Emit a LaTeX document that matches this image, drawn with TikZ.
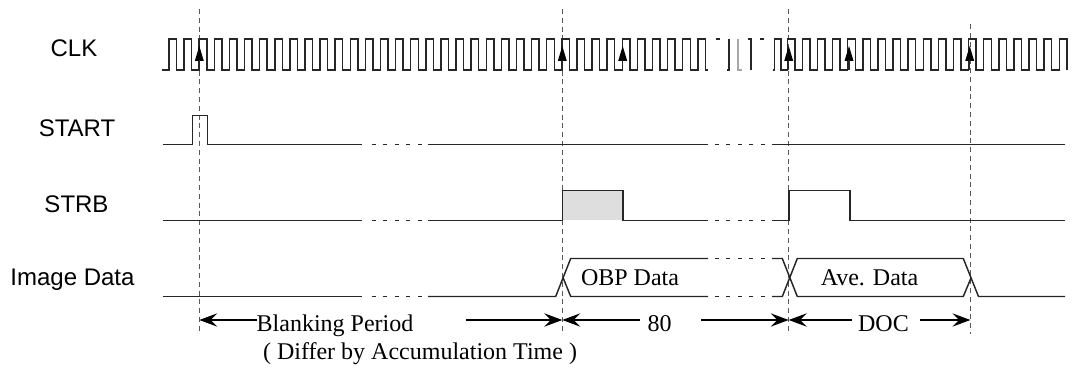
\documentclass[tikz,border=0pt]{standalone}
\usepackage{fontspec}
\setmainfont{Liberation Serif}
\newfontfamily\lblfont{Liberation Sans}
\usetikzlibrary{arrows.meta}
\tikzset{
  x=0.75pt,y=-0.75pt,
  sig/.style={line width=1.1pt,line join=miter,black!85},
  guide/.style={line width=0.8pt,black!65,dash pattern=on 3.8pt off 2.8pt},
  clkarrow/.style={fill=black,draw=none},
  diml/.style={line width=0.9pt,black,{Stealth[length=13.5pt,width=10pt,inset=5pt]}-},
  dimr/.style={line width=0.9pt,black,-{Stealth[length=13.5pt,width=10pt,inset=5pt]}},
  gap/.style={line width=1.1pt,black!85,dash pattern=on 2.8pt off 5.8pt},
  siglabel/.style={font=\lblfont\fontsize{18pt}{20pt}\selectfont,anchor=base,inner sep=0pt,black},
  tlabel/.style={font=\fontsize{18pt}{20pt}\selectfont,anchor=base,inner sep=0pt,black}
}
\begin{document}
\begin{tikzpicture}
\useasboundingbox (0,0) rectangle (1072,370);
% guides
\coordinate (g1t) at (199.3,9); \coordinate (g1b) at (199.3,334);
\coordinate (g2t) at (562.3,9); \coordinate (g2b) at (562.3,334);
\coordinate (g3t) at (788.7,9); \coordinate (g3b) at (788.7,334);
\coordinate (g4t) at (970.4,24); \coordinate (g4b) at (970.4,334);
\fill[black!13] (562.3,190.5) rectangle (622.8,220.5);
\draw[guide] (g1t)--(g1b);
\draw[guide] (g2t)--(g2b);
\draw[guide] (g3t)--(g3b);
\draw[guide] (g4t)--(g4b);
% labels
\node[siglabel] (clk) at (74,56.7) {CLK};
\node[siglabel] (start) at (77,136.7) {START};
\node[siglabel] (strb) at (76.5,212.7) {STRB};
\node[siglabel] (img) at (72.5,285.7) {Image Data};
% CLK
\def\hi{39}\def\lo{70}\def\per{15.11}\def\hw{7.55}
\draw[sig] (162,\lo)
 \foreach \n in {0,...,35}{ -- ({169+\n*\per},\lo) -- ({169+\n*\per},\hi) -- ({169+\n*\per+\hw},\hi) -- ({169+\n*\per+\hw},\lo) } -- (708,\lo);
\draw[sig] (716,\hi)--(719.5,\hi);
\draw[sig] (726.5,\lo)--(729,\lo)--(729,\hi);
\draw[black!35,line width=1pt] (738,\hi)--(738,\lo)--(742,\lo);
\draw[sig] (748,\hi)--(751,\hi)--(751,\lo);
\draw[sig] (760,\hi)--(764,\hi);
\draw[sig] (772.5,\lo) -- (774.5,\lo)--(774.5,\hi)--(781,\hi)--(781,\lo)
 \foreach \n in {0,...,18}{ -- ({787.3+\n*\per},\lo) -- ({787.3+\n*\per},\hi) -- ({787.3+\n*\per+\hw},\hi) -- ({787.3+\n*\per+\hw},\lo) };
\foreach \x in {199.3,562.3,622.7,788.7,849,969.7}{
  \fill[clkarrow] (\x,46)--(\x-4.5,61)--(\x+4.5,61)--cycle;
  \draw[sig,line width=0.8pt] (\x,60)--(\x,70);
}
% START
\draw[sig] (162.5,144.5)--(192.3,144.5)--(192.3,115.3)--(207.7,115.3)--(207.7,144.5)--(362,144.5);
\draw[gap] (372,144.5)--(422,144.5);
\draw[sig] (428,144.5)--(708,144.5);
\draw[gap] (715,144.5)--(769,144.5);
\draw[sig] (772,144.5)--(1065,144.5);
% STRB
\draw[sig] (162.5,220.5)--(362,220.5);
\draw[gap] (372,220.5)--(422,220.5);
\draw[sig] (428,220.5)--(562.3,220.5)--(562.3,190.5)--(622.8,190.5)--(622.8,220.5)--(708,220.5);
\draw[gap] (715,220.5)--(769,220.5);
\draw[sig] (772,220.5)--(789,220.5)--(789,190.5)--(850,190.5)--(850,220.5)--(1065,220.5);
% Image Data
\draw[sig] (162.5,296.5)--(362,296.5);
\draw[gap] (372,296.5)--(422,296.5);
\draw[sig] (428,296.5)--(555.7,296.5)--(570.7,258.5)--(708,258.5);
\draw[sig] (563.2,278)--(570.7,296.5)--(708,296.5);
\draw[gap] (715,258.5)--(769,258.5);
\draw[gap] (715,296.5)--(769,296.5);
\draw[sig] (772,258.5)--(782.3,258.5)--(797.3,296.5)--(963.3,296.5)--(971,278);
\draw[sig] (772,296.5)--(782.3,296.5)--(797.3,258.5)--(963.3,258.5)--(978.5,296.5)--(1065,296.5);
\node[tlabel] (obp) at (630,286) {OBP Data};
\node[tlabel] (ave) at (869.5,285.5) {Ave. Data};
% dimensions
\node[tlabel] (blank) at (335,331.7) {Blanking Period};
\node[tlabel] (differ) at (420,360) {( Differ by Accumulation Time )};
\node[tlabel] (eighty) at (659.5,331.7) {80};
\node[tlabel] (doc) at (883.5,331.7) {DOC};
\coordinate (a0) at (257,320);
\draw[diml] (g1b |- a0) -- (a0);
\coordinate (a1) at (466,320);
\draw[dimr] (a1) -- (g2b |- a1);
\coordinate (a2) at (640,320);
\draw[diml] (g2b |- a2) -- (a2);
\coordinate (a3) at (701,320);
\draw[dimr] (a3) -- (g3b |- a3);
\coordinate (a4) at (852,320);
\draw[diml] (g3b |- a4) -- (a4);
\coordinate (a5) at (920,320);
\draw[dimr] (a5) -- (g4b |- a5);
\end{tikzpicture}
\end{document}
